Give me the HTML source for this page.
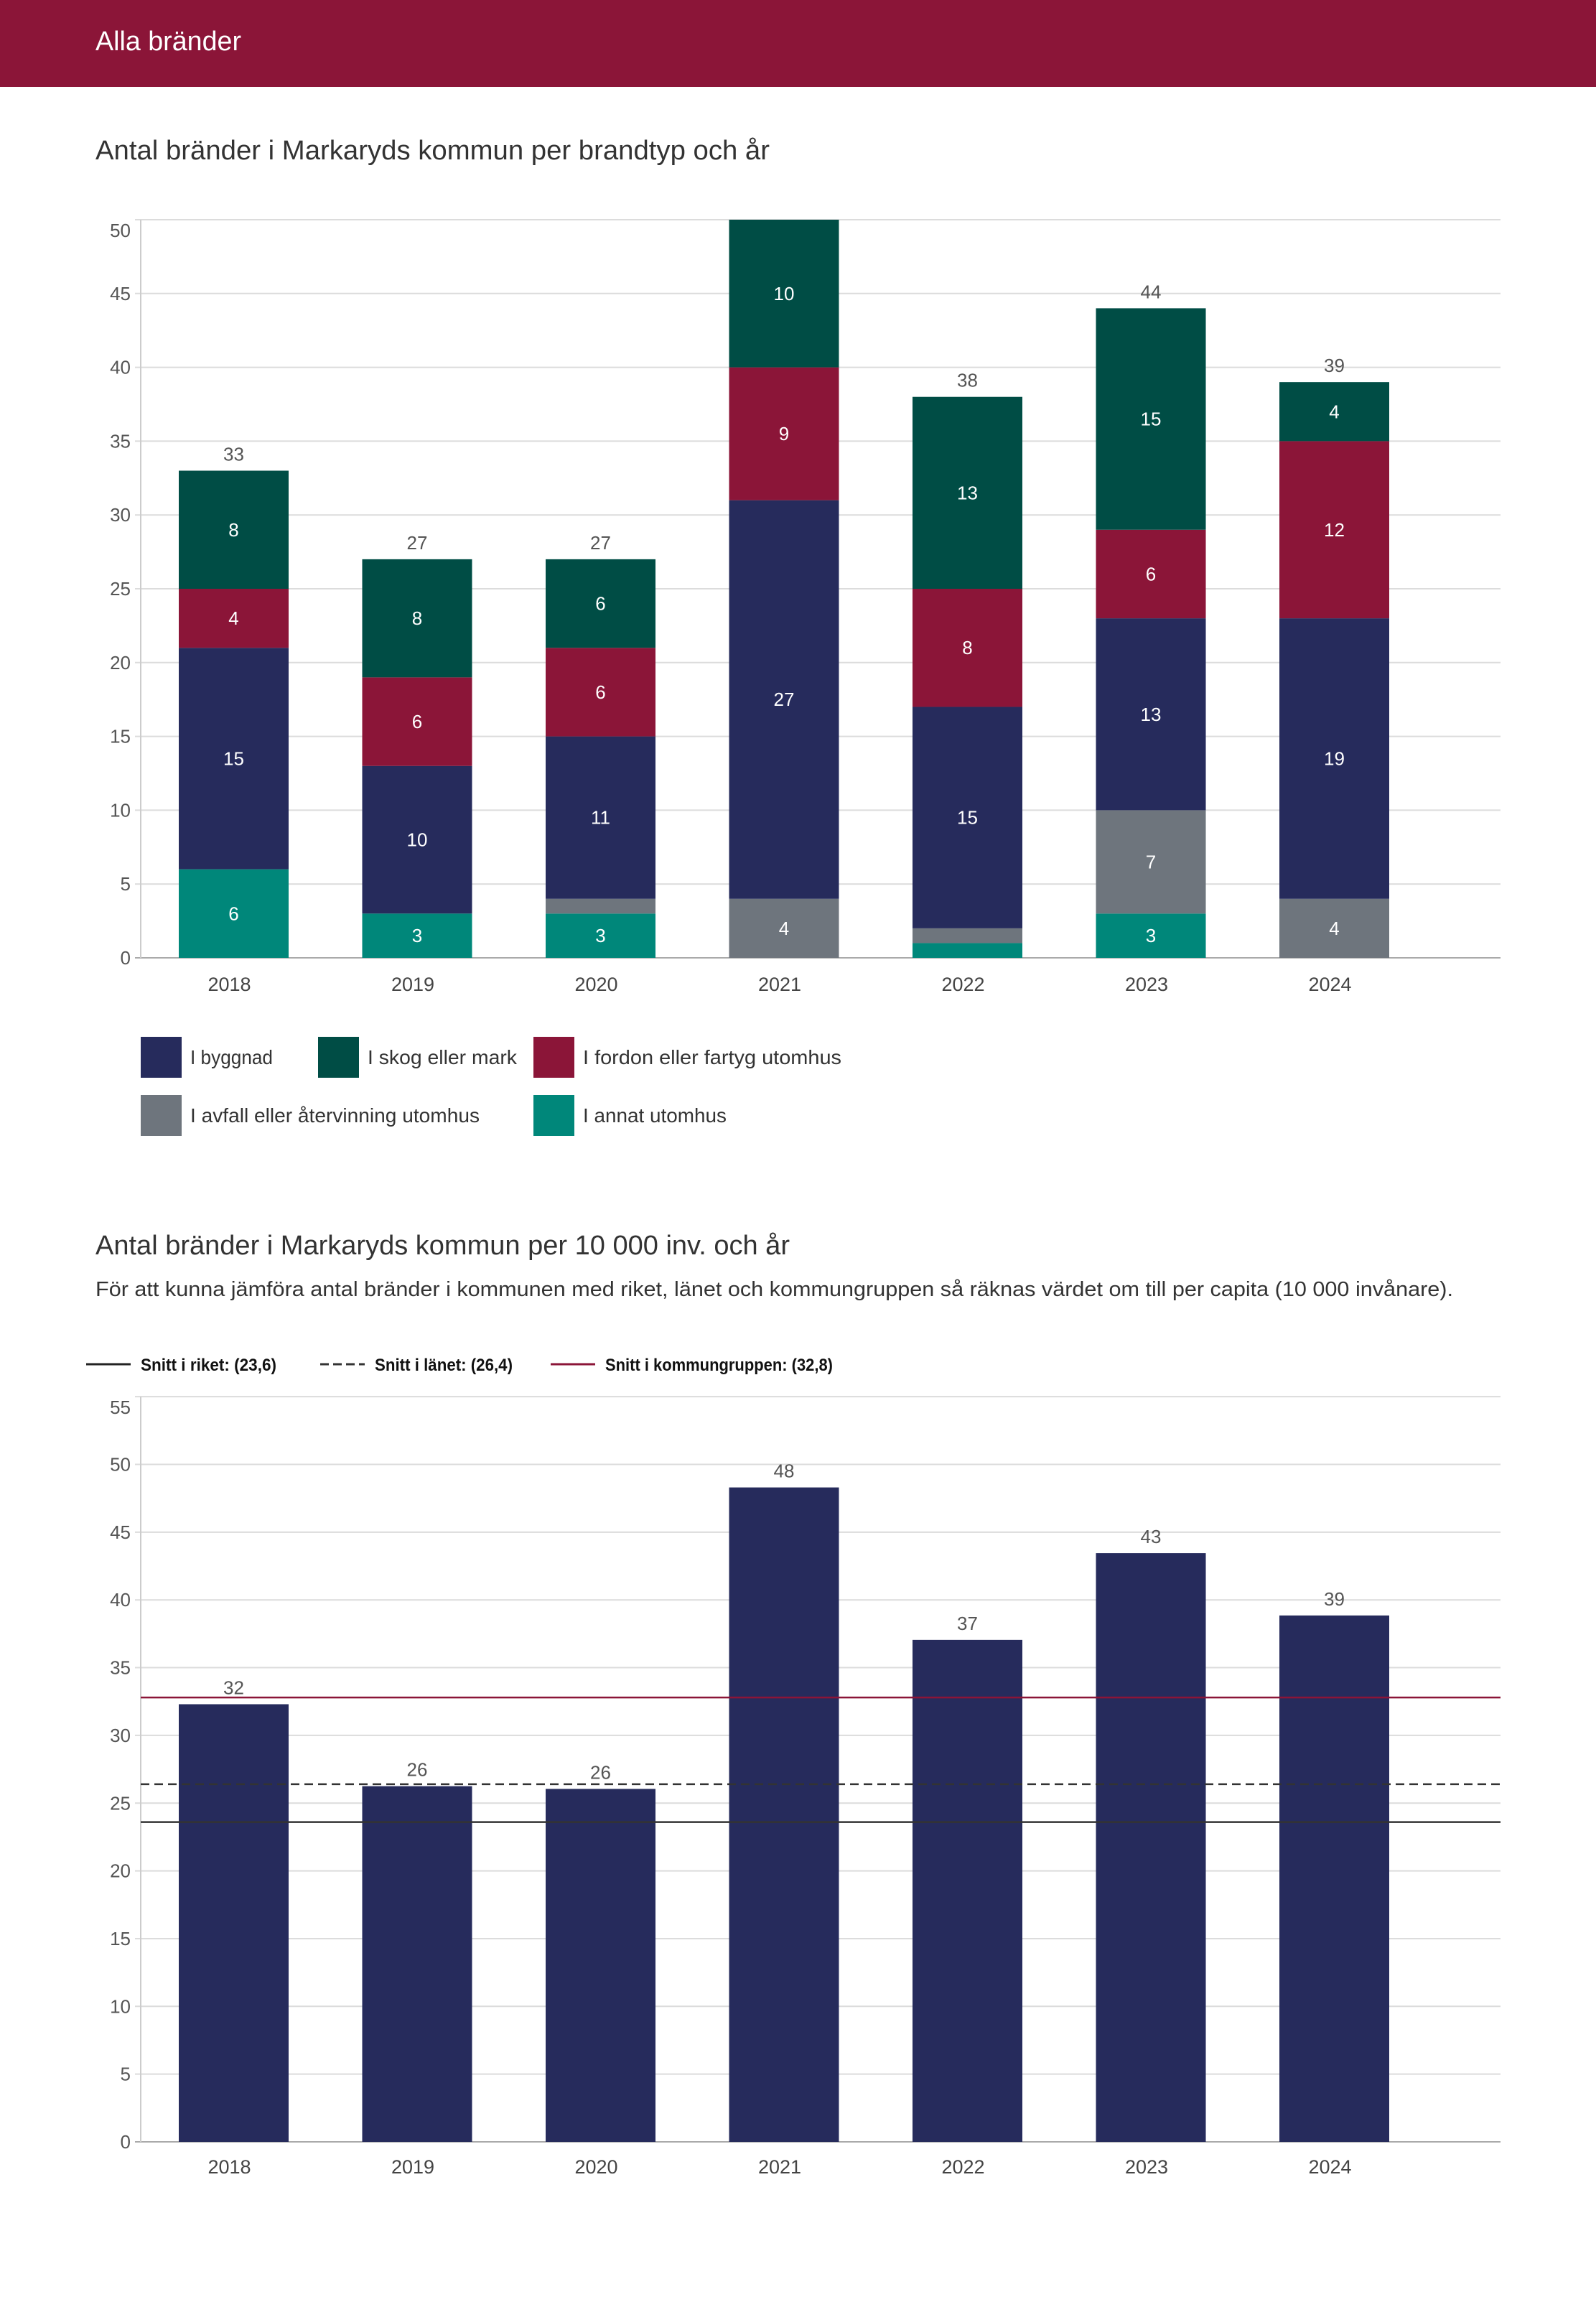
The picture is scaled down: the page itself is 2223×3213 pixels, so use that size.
<!DOCTYPE html>
<html><head><meta charset="utf-8"><style>
html,body{margin:0;padding:0;background:#fff;}
svg{display:block;font-family:"Liberation Sans",sans-serif;}
</style></head><body>
<svg id="page" width="2223" height="3213" viewBox="0 0 2223 3213" xmlns="http://www.w3.org/2000/svg">
<rect x="0" y="0" width="2223" height="121" fill="#8B1538"/>
<text x="133" y="70" font-size="38" fill="#fff" textLength="203" lengthAdjust="spacingAndGlyphs">Alla bränder</text>
<text x="133" y="222" font-size="38" fill="#333" textLength="939" lengthAdjust="spacingAndGlyphs">Antal bränder i Markaryds kommun per brandtyp och år</text>
<g id="c1"></g>
<g id="lg1"></g>
<text x="133" y="1747" font-size="38" fill="#333" textLength="967" lengthAdjust="spacingAndGlyphs">Antal bränder i Markaryds kommun per 10 000 inv. och år</text>
<text x="133" y="1805" font-size="29" fill="#333" textLength="1891" lengthAdjust="spacingAndGlyphs">För att kunna jämföra antal bränder i kommunen med riket, länet och kommungruppen så räknas värdet om till per capita (10 000 invånare).</text>
<g id="lg2"></g>
<g id="c2"></g>
</svg>
<script>
const years = ["2018","2019","2020","2021","2022","2023","2024"];
const annat   = [6,3,3,0,1,3,0];
const avfall  = [0,0,1,4,1,7,4];
const byggnad = [15,10,11,27,15,13,19];
const fordon  = [4,6,6,9,8,6,12];
const skog    = [8,8,6,10,13,15,4];
const ticks1 = [0,5,10,15,20,25,30,35,40,45,50];
const perCapita = [32.3,26.25,26.05,48.3,37.05,43.45,38.85];
const perCapitaLabels = ["32","26","26","48","37","43","39"];
const ticks2 = [0,5,10,15,20,25,30,35,40,45,50,55];
const refRiket = 23.6, refLanet = 26.4, refGrupp = 32.8;

const NS="http://www.w3.org/2000/svg";
function mk(tag, attrs, parent, txt){const e=document.createElementNS(NS,tag);for(const k in attrs)e.setAttribute(k,attrs[k]);if(txt!==undefined)e.textContent=txt;parent.appendChild(e);return e;}
const L=196, R=2090, barW=153;
function xc(i){return 325.5+i*255.5;}
const xlOff=-6;

// chart 1
const c1=document.getElementById('c1');
const y1=v=>1334-v*20.56;
ticks1.forEach((t,k)=>{
  const g=mk('line',{x1:L-8,x2:R,y1:y1(t),y2:y1(t),stroke:t===0?'#aaa':'#dcdcdc','stroke-width':2},c1);
  
  
  const off=(k===ticks1.length-1)?24:9;
  const tx=mk('text',{x:182,y:y1(t)+off,'font-size':26,fill:'#555','text-anchor':'end'},c1,String(t));
  
  
});
mk('line',{x1:L,x2:L,y1:y1(50),y2:y1(0),stroke:'#ccc','stroke-width':2},c1);
const series=[[annat,'#00877A','annat'],[avfall,'#6E757D','avfall'],[byggnad,'#262B5C','byggnad'],[fordon,'#8B1538','fordon'],[skog,'#004D45','skog']];
years.forEach((yr,i)=>{
  let base=0;
  series.forEach(([arr,col,nm])=>{
    const v=arr[i]; if(!v) return;
    const r=mk('rect',{x:xc(i)-barW/2,y:y1(base+v),width:barW,height:y1(base)-y1(base+v),fill:col},c1);
    
    
    if(v>=3){
      const t=mk('text',{x:xc(i),y:y1(base+v/2)+9,'font-size':26,fill:'#fff','text-anchor':'middle'},c1,String(v));
      
      
    }
    base+=v;
  });
  if(base<50){
    const t=mk('text',{x:xc(i),y:y1(base)-14,'font-size':26,fill:'#555','text-anchor':'middle'},c1,String(base));
    
    
  }
  const xl=mk('text',{x:xc(i)+xlOff,y:1380,'font-size':27,fill:'#444','text-anchor':'middle'},c1,yr);
  
  
});

// legend 1
const lg1=document.getElementById('lg1');
const leg=[[196,1444,'#262B5C','I byggnad',115],[443,1444,'#004D45','I skog eller mark',208],[743,1444,'#8B1538','I fordon eller fartyg utomhus',360],[196,1525,'#6E757D','I avfall eller återvinning utomhus',403],[743,1525,'#00877A','I annat utomhus',200]];
leg.forEach(([x,y,c,l,w])=>{
  const g=mk('g',{},lg1);
  
  
  mk('rect',{x:x,y:y,width:57,height:57,fill:c},g);
  mk('text',{x:x+69,y:y+38,'font-size':28,fill:'#333',textLength:w,lengthAdjust:'spacingAndGlyphs'},g,l);
});

// legend 2
const lg2=document.getElementById('lg2');
const leg2=[[120,'#222',null,'Snitt i riket: (23,6)',189],[446,'#333','12 6','Snitt i länet: (26,4)',192],[767,'#8B1538',null,'Snitt i kommungruppen: (32,8)',317]];
leg2.forEach(([x,c,d,l,w])=>{
  const g=mk('g',{},lg2);
  
  
  const ln=mk('line',{x1:x,x2:x+62,y1:1900,y2:1900,stroke:c,'stroke-width':3},g);
  if(d) ln.setAttribute('stroke-dasharray',d);
  mk('text',{x:x+76,y:1909,'font-size':24,'font-weight':'bold',fill:'#111',textLength:w,lengthAdjust:'spacingAndGlyphs'},g,l);
});

// chart 2
const c2=document.getElementById('c2');
const y2=v=>2983-v*18.87;
ticks2.forEach((t,k)=>{
  const g=mk('line',{x1:L-8,x2:R,y1:y2(t),y2:y2(t),stroke:t===0?'#aaa':'#dcdcdc','stroke-width':2},c2);
  
  
  const off=(k===ticks2.length-1)?24:9;
  const tx=mk('text',{x:182,y:y2(t)+off,'font-size':26,fill:'#555','text-anchor':'end'},c2,String(t));
  
  
});
mk('line',{x1:L,x2:L,y1:y2(55),y2:y2(0),stroke:'#ccc','stroke-width':2},c2);
years.forEach((yr,i)=>{
  const v=perCapita[i];
  const r=mk('rect',{x:xc(i)-barW/2,y:y2(v),width:barW,height:y2(0)-y2(v),fill:'#262B5C'},c2);
  
  
  const t=mk('text',{x:xc(i),y:y2(v)-14,'font-size':26,fill:'#555','text-anchor':'middle'},c2,perCapitaLabels[i]);
  
  
  const xl=mk('text',{x:xc(i)+xlOff,y:3027,'font-size':27,fill:'#444','text-anchor':'middle'},c2,yr);
  
  
});
const r1=mk('line',{x1:L,x2:R,y1:y2(refRiket),y2:y2(refRiket),stroke:'#333','stroke-width':2.5},c2);


const r2=mk('line',{x1:L,x2:R,y1:y2(refLanet),y2:y2(refLanet),stroke:'#333','stroke-width':2.5,'stroke-dasharray':'12 7'},c2);


const r3=mk('line',{x1:L,x2:R,y1:y2(refGrupp),y2:y2(refGrupp),stroke:'#8B1538','stroke-width':2.5},c2);


</script>
</body></html>
